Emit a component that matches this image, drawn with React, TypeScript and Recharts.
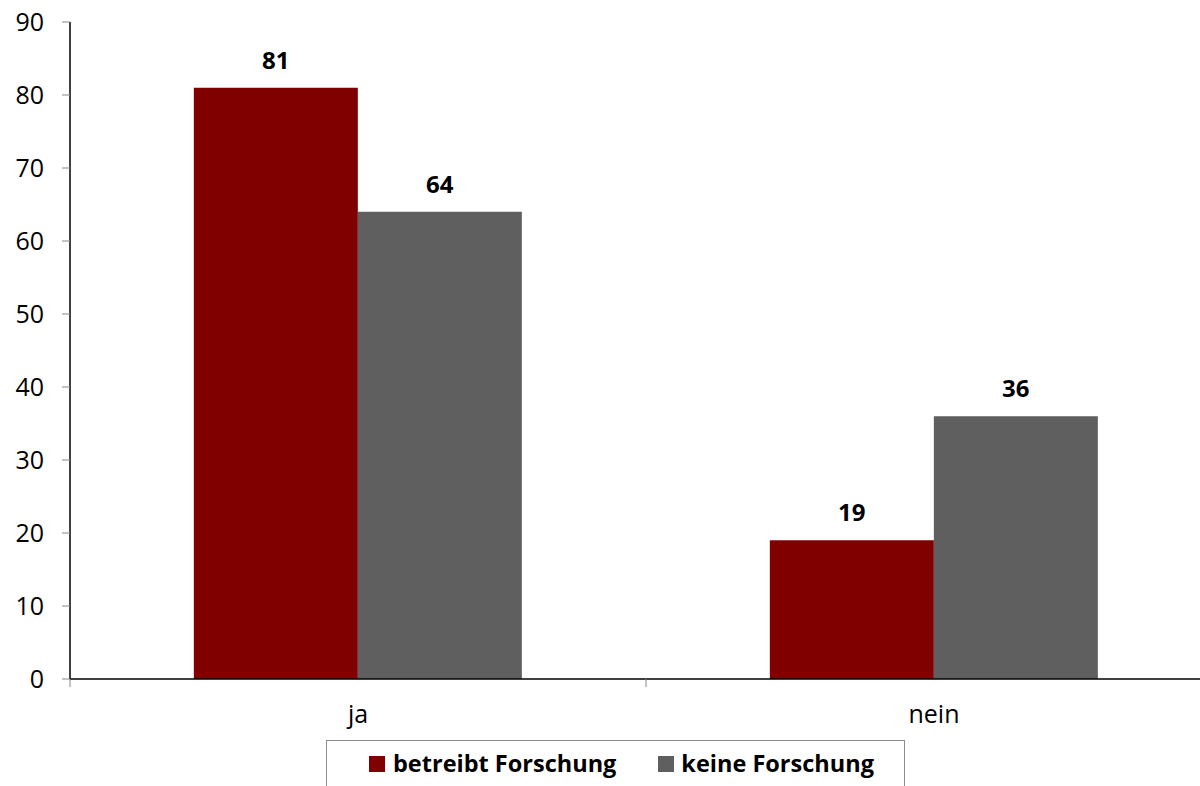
import React from "react";
import { BarChart, Bar, XAxis, YAxis, LabelList, Legend } from "recharts";

const categories = ["ja", "nein"];
const betreibtForschung = [81, 19];
const keineForschung = [64, 36];
const yTicks = [0, 10, 20, 30, 40, 50, 60, 70, 80, 90];
const seriesNames = ["betreibt Forschung", "keine Forschung"];

const RED = "#800000";
const GREY = "#5f5f5f";
const FONT = "'Open Sans', sans-serif";

const data = categories.map((c, i) => ({
  name: c,
  a: betreibtForschung[i],
  b: keineForschung[i],
}));

const XTick = (props: any) => {
  const { x, y, payload } = props;
  const half = payload && typeof payload.offset === "number" && payload.offset > 0 ? payload.offset : 288;
  return (
    <g>
      <line x1={x - half} x2={x - half} y1={y} y2={y + 8} stroke="#868686" strokeWidth={1} />
      <text x={x} y={y + 44} textAnchor="middle" fontFamily={FONT} fontSize={25} fill="#000">
        {payload.value}
      </text>
    </g>
  );
};

const LegendBox = () => (
  <div
    style={{
      boxSizing: "border-box",
      width: 579,
      height: 60,
      border: "1px solid #8c8c8c",
      paddingLeft: 42,
      paddingTop: 7,
      whiteSpace: "nowrap",
      fontFamily: FONT,
      fontWeight: 700,
      fontSize: 23.5,
      lineHeight: "31px",
      color: "#000",
      textAlign: "left",
    }}
  >
    <span style={{ display: "inline-block", width: 16, height: 16, background: RED, marginRight: 8 }} />
    <span>{seriesNames[0]}</span>
    <span style={{ display: "inline-block", width: 16, height: 16, background: GREY, marginLeft: 42, marginRight: 7 }} />
    <span>{seriesNames[1]}</span>
  </div>
);

export default function App() {
  return (
    <div style={{ width: 1200, height: 786, overflow: "hidden", position: "relative" }}>
      <style>{"body{margin:0;overflow:hidden;}"}</style>
      <BarChart
        width={1240}
        height={786}
        data={data}
        margin={{ top: 22, right: 18, bottom: 0, left: 0 }}
        barCategoryGap="21.5%"
        barGap={0}
      >
        <XAxis
          dataKey="name"
          height={107}
          axisLine={{ stroke: "#000", strokeWidth: 1.5 }}
          tickLine={false}
          tickSize={0}
          tickMargin={0}
          tick={<XTick />}
          interval={0}
        />
        <YAxis
          width={70}
          domain={[0, 90]}
          ticks={yTicks}
          interval={0}
          axisLine={{ stroke: "#000", strokeWidth: 1.5 }}
          tickLine={{ stroke: "#868686" }}
          tickSize={8}
          tickMargin={18}
          tick={{ fill: "#000", fontSize: 25, fontFamily: FONT }}
        />
        <Legend
          layout="horizontal"
          verticalAlign="middle"
          align="center"
          content={<LegendBox />}
          wrapperStyle={{ left: 326, top: 740, width: 579, height: 60 }}
        />
        <Bar dataKey="a" name={seriesNames[0]} fill={RED} isAnimationActive={false}>
          <LabelList dataKey="a" position="top" offset={19} fill="#000" fontSize={24} fontWeight={700} fontFamily={FONT} />
        </Bar>
        <Bar dataKey="b" name={seriesNames[1]} fill={GREY} isAnimationActive={false}>
          <LabelList dataKey="b" position="top" offset={19} fill="#000" fontSize={24} fontWeight={700} fontFamily={FONT} />
        </Bar>
      </BarChart>
    </div>
  );
}
